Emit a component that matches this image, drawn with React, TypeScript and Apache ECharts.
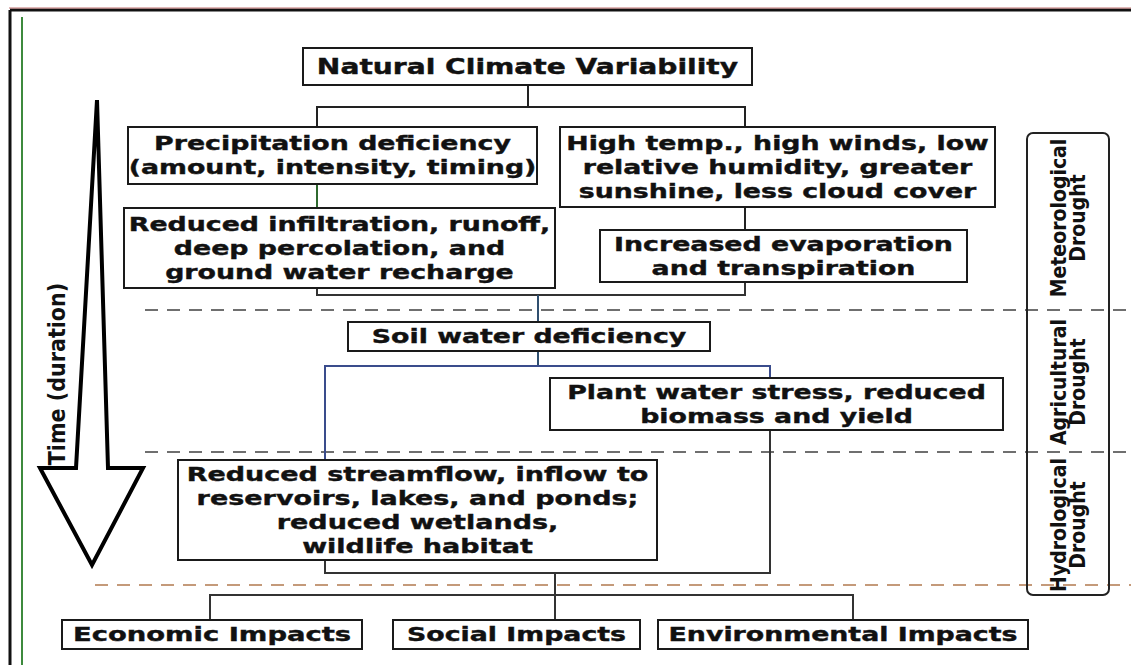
import React, { useEffect, useRef } from 'react';
import * as echarts from 'echarts';

// ---- content ----
const titleLabel = 'Natural Climate Variability';
const causeLabels = [
  'Precipitation deficiency\n(amount, intensity, timing)',
  'High temp., high winds, low\nrelative humidity, greater\nsunshine, less cloud cover',
];
const effectLabels = [
  'Reduced infiltration, runoff,\ndeep percolation, and\nground water recharge',
  'Increased evaporation\nand transpiration',
];
const soilLabel = 'Soil water deficiency';
const plantLabel = 'Plant water stress, reduced\nbiomass and yield';
const streamLabel = 'Reduced streamflow, inflow to\nreservoirs, lakes, and ponds;\nreduced wetlands,\nwildlife habitat';
const impactLabels = ['Economic Impacts', 'Social Impacts', 'Environmental Impacts'];
const stageLabels = ['Meteorological\nDrought', 'Agricultural\nDrought', 'Hydrological\nDrought'];
const timeLabel = 'Time (duration)';

// ---- layout ----
const boxTexts = [
  titleLabel, causeLabels[0], causeLabels[1], effectLabels[0], effectLabels[1],
  soilLabel, plantLabel, streamLabel, impactLabels[0], impactLabels[1], impactLabels[2],
];
const boxRects = [
  [303, 48, 449, 37],
  [128, 127, 409, 57],
  [560, 127, 435, 80],
  [124, 208, 431, 80],
  [600, 230, 367, 52],
  [348, 322, 362, 29],
  [550, 378, 453, 52],
  [178, 460, 479, 100],
  [62, 620, 300, 29],
  [393, 620, 247, 29],
  [658, 620, 370, 29],
];
const boxFont = [21, 20, 20, 20, 20, 20, 20, 20, 20, 20, 20];
const boxScaleX = [1.34, 1.34, 1.34, 1.34, 1.34, 1.34, 1.34, 1.35, 1.37, 1.34, 1.34];

const connectors = [
  [[528, 85], [528, 107]],
  [[317, 127], [317, 107], [745, 107], [745, 127]],
  [[317, 184], [317, 208]],
  [[745, 207], [745, 230]],
  [[317, 288], [317, 295], [745, 295], [745, 282]],
  [[538, 295], [538, 322]],
  [[538, 351], [538, 366]],
  [[325, 460], [325, 366], [770, 366], [770, 378]],
  [[770, 430], [770, 573], [325, 573], [325, 560]],
  [[555, 573], [555, 620]],
  [[210, 620], [210, 595], [853, 595], [853, 620]],
];
const connectorColors = ['#222', '#222', '#2f6a2f', '#222', '#333', '#2f4f6f', '#2f4f6f', '#3a4c8c', '#333', '#333', '#333'];

const dashLines = [
  [145, 310, 1131, 310],
  [145, 452, 1131, 452],
  [95, 585, 1131, 585],
];
const dashColors = ['#6f6f6f', '#6f6f6f', '#c49a7a'];

const stageCenters = [[1068, 218], [1068, 382], [1068, 525]];
const arrowPoints = [[97, 100], [108, 468], [143, 468], [92, 565], [40, 468], [76, 468]];

export default function App() {
  const ref = useRef<HTMLDivElement>(null);
  useEffect(() => {
    if (!ref.current) return;
    const chart = echarts.init(ref.current, undefined, { renderer: 'svg' });
    const elements: any[] = [];

    // frame
    elements.push({ type: 'line', shape: { x1: 10, y1: 10, x2: 1131, y2: 10 }, style: { stroke: '#111', lineWidth: 3 } });
    elements.push({ type: 'line', shape: { x1: 9, y1: 8, x2: 1131, y2: 8 }, style: { stroke: '#c07070', lineWidth: 1 } });
    elements.push({ type: 'line', shape: { x1: 10, y1: 10, x2: 10, y2: 665 }, style: { stroke: '#111', lineWidth: 3 } });
    elements.push({ type: 'line', shape: { x1: 22, y1: 17, x2: 22, y2: 665 }, style: { stroke: '#3d8a3d', lineWidth: 2 } });

    // dashed separators
    dashLines.forEach((d, i) => {
      elements.push({
        type: 'line',
        shape: { x1: d[0], y1: d[1], x2: d[2], y2: d[3] },
        style: { stroke: dashColors[i], lineWidth: 2, lineDash: [13, 9] },
      });
    });

    // stage box
    elements.push({
      type: 'rect',
      shape: { x: 1027, y: 133, width: 82, height: 462, r: 6 },
      style: { fill: 'none', stroke: '#222', lineWidth: 2 },
    });
    stageLabels.forEach((t, i) => {
      elements.push({
        type: 'text',
        x: stageCenters[i][0],
        y: stageCenters[i][1],
        rotation: Math.PI / 2,
        style: {
          text: t,
          textAlign: 'center',
          textVerticalAlign: 'middle',
          font: "bold 21px 'Liberation Sans Narrow', 'DejaVu Sans Condensed', sans-serif",
          lineHeight: 19,
          fill: '#111',
        },
      });
    });

    // connectors
    connectors.forEach((pts, i) => {
      elements.push({ type: 'polyline', shape: { points: pts }, style: { stroke: connectorColors[i], lineWidth: 2, fill: 'none' } });
    });

    // boxes
    boxRects.forEach((r, i) => {
      elements.push({
        type: 'rect',
        shape: { x: r[0], y: r[1], width: r[2], height: r[3] },
        style: { fill: '#fff', stroke: '#1a1a1a', lineWidth: 2 },
      });
      const lines = boxTexts[i].split('\n').length;
      elements.push({
        type: 'text',
        x: r[0] + r[2] / 2,
        y: r[1] + r[3] / 2,
        scaleX: boxScaleX[i],
        style: {
          text: boxTexts[i],
          textAlign: 'center',
          textVerticalAlign: 'middle',
          font: `bold ${boxFont[i]}px 'DejaVu Sans', sans-serif`,
          lineHeight: lines > 1 ? 24 : boxFont[i] + 4,
          fill: '#111',
          stroke: '#111',
          lineWidth: 0.4,
        },
      });
    });

    // time arrow
    elements.push({
      type: 'polygon',
      shape: { points: arrowPoints },
      style: { fill: '#fff', stroke: '#000', lineWidth: 4, lineJoin: 'miter' },
    });
    elements.push({
      type: 'text',
      x: 57,
      y: 374,
      rotation: Math.PI / 2,
      style: {
        text: timeLabel,
        textAlign: 'center',
        textVerticalAlign: 'middle',
        font: "bold 23px 'Liberation Sans Narrow', 'DejaVu Sans Condensed', sans-serif",
        fill: '#111',
      },
    });

    chart.setOption({
      animation: false,
      backgroundColor: '#fff',
      graphic: { elements },
    });
    return () => chart.dispose();
  }, []);
  return <div ref={ref} style={{ position: 'fixed', left: 0, top: 0, width: 1131, height: 665, background: '#fff' }} />;
}
